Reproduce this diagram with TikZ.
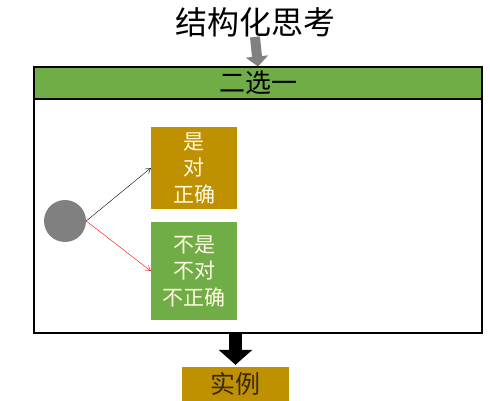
\documentclass[tikz,border=0pt]{standalone}
\usepackage{fontspec}
\setmainfont{Noto Sans CJK SC}
\usepackage{xcolor}
\definecolor{leafgreen}{RGB}{112,173,71}
\definecolor{darkgold}{RGB}{191,144,0}
\definecolor{palecream}{RGB}{255,250,228}
\definecolor{darkbrown}{RGB}{55,40,8}
\usetikzlibrary{arrows.meta,positioning}

\begin{document}
\begin{tikzpicture}[->, >={Straight Barb[length=5pt,width=6pt]}, x=1pt, y=-1pt, line cap=round, thin]
   \tikzstyle{every node}=[inner sep=0pt]
   \tikzstyle{choice}=[rectangle, minimum width=86pt, text=palecream, align=center, font=\fontsize{21}{26.5}\selectfont]
   \tikzstyle{bigarrow}=[line width=10pt, line cap=butt, -{Triangle[length=10pt,width=22pt]}]

   \useasboundingbox (0,0) rectangle (490,401);

   \node[font=\fontsize{32}{32}\selectfont] (title) at (255,22) {结构化思考};
   \node[draw, line width=1.1pt, fill=leafgreen, minimum width=448pt, minimum height=32pt, font=\fontsize{26}{26}\selectfont] (bar) at (258,83) {二选一};
   \node[draw, line width=1.1pt, minimum width=448pt, minimum height=234pt] (frame) at (258,216) {};

   \node[circle, fill=gray, minimum size=42pt] (root) at (65,221) {};
   \node[choice, fill=darkgold, minimum height=82pt] (yes) at (194,168) {是\\对\\正确};
   \node[choice, fill=leafgreen, minimum height=98pt] (no) at (194,271) {不是\\不对\\不正确};

   \node[fill=darkgold, minimum width=107pt, minimum height=34pt, text=darkbrown, font=\fontsize{25}{25}\selectfont] (case) at (235.5,384) {实例};

   \path
  (root.east)
    edge (yes.west)
  (root.east)
    edge [red] (no.west)
   ;

   \draw[bigarrow, gray] (title.south) -- (bar.north);
   \draw[bigarrow, line width=13pt, -{Triangle[length=15pt,width=33pt]}, shorten >=2pt] (case.north |- frame.south) -- (case.north);
 \end{tikzpicture}
\end{document}
